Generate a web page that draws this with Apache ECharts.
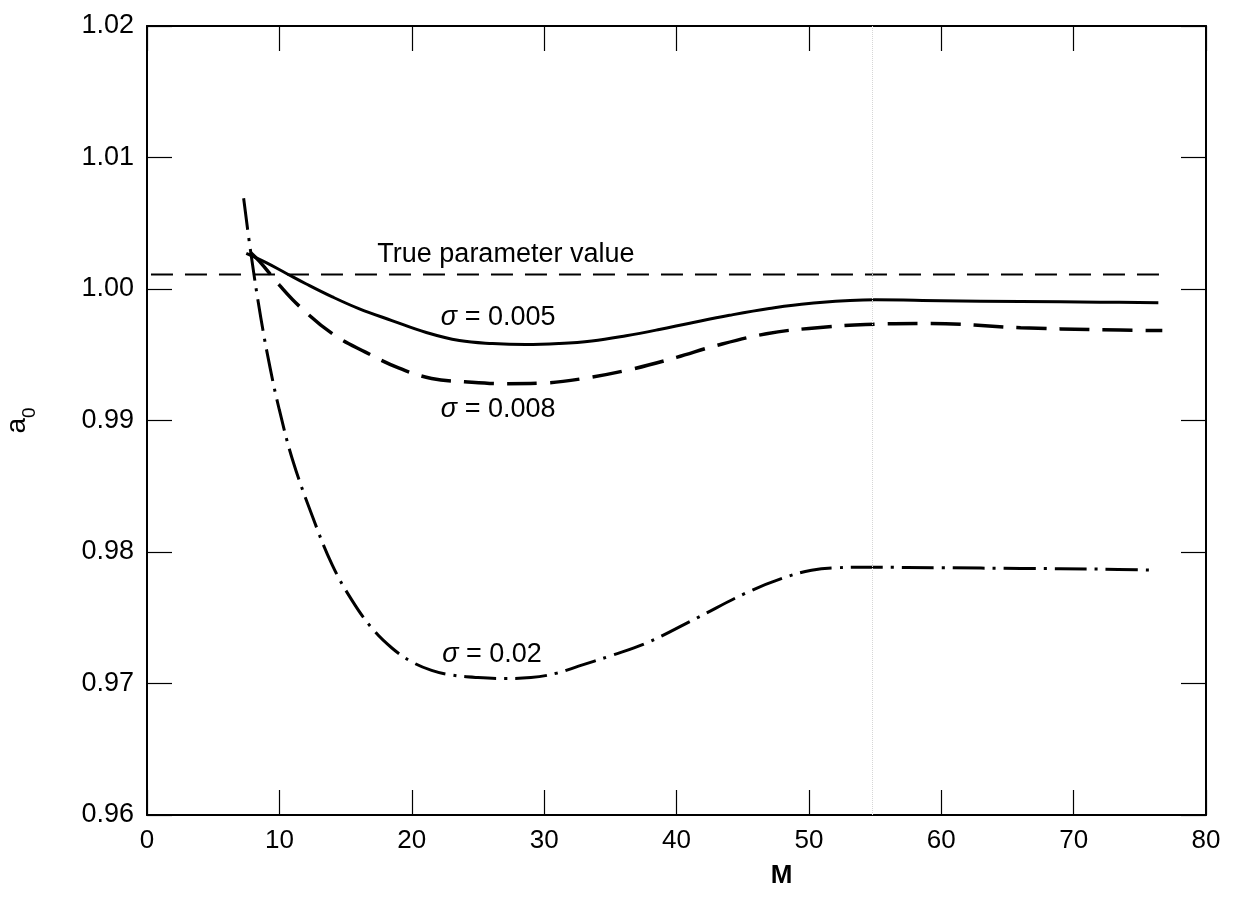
<!DOCTYPE html>
<html>
<head>
<meta charset="utf-8">
<script src="https://cdn.jsdelivr.net/npm/echarts@6/dist/echarts.min.js"></script>
<style>html,body{margin:0;padding:0;background:#fff}#c{width:1234px;height:913px}</style>
</head>
<body>
<div id="c"></div>
<script>
// ---- data ----
const xTicks = [0, 10, 20, 30, 40, 50, 60, 70, 80];
const yTicks = [0.96, 0.97, 0.98, 0.99, 1.00, 1.01, 1.02];

const trueM = [0.3, 76.7];
const trueA = [1.0011, 1.0011];

const m005 = [7.5, 9, 10.5, 12, 14, 16, 18.5, 21.1, 23.6, 26.1, 28.6, 31.1, 33.6, 36.2, 38.7, 41, 44, 47, 50, 55, 60, 66, 72, 76.4];
const a005 = [1.0027, 1.0020, 1.0012, 1.0004, 0.9994, 0.99851, 0.9976, 0.99669, 0.99608, 0.99585, 0.99577, 0.99585, 0.99605, 0.99645, 0.99692, 0.9974, 0.9980, 0.99852, 0.9989, 0.99918, 0.99911, 0.99905, 0.9990, 0.99896];

const m008 = [7.8, 8.5, 10, 11.5, 14, 16.5, 19, 21.5, 24, 27, 30, 33, 36.6, 40, 43, 46.8, 50, 54.3, 59, 66, 72, 76.7];
const a008 = [1.0028, 1.0021, 1.0003, 0.9987, 0.9966, 0.9952, 0.9940, 0.9932, 0.99295, 0.9928, 0.99285, 0.9932, 0.9939, 0.9948, 0.9957, 0.9966, 0.9970, 0.9973, 0.99737, 0.99706, 0.9969, 0.99684];

const m02 = [7.3, 7.85, 8.6, 9.3, 10, 11, 12.5, 14, 15.5, 17, 18.5, 20, 21.5, 23, 25, 27, 29, 31, 32.6, 35, 37.7, 41.5, 45.2, 48, 50.2, 52, 54.8, 60, 66, 72, 76.2];
const a02 = [1.0069, 1.0027, 0.9978, 0.9940, 0.9908, 0.9870, 0.9827, 0.9790, 0.9763, 0.9742, 0.9727, 0.97165, 0.9710, 0.97065, 0.97045, 0.97038, 0.97045, 0.9708, 0.97132, 0.9721, 0.97306, 0.97496, 0.97686, 0.9780, 0.97861, 0.9788, 0.97884, 0.9788, 0.97875, 0.9787, 0.97861];

const labelTexts = ['True parameter value', '{s|σ} = 0.005', '{s|σ} = 0.008', '{s|σ} = 0.02'];
const labelM = [17.4, 22.2, 22.2, 22.3];
const labelA = [1.0026, 0.99782, 0.99084, 0.97223];

const xTitle = 'M';
const yTitle = '{a|a}{b|0}';

// ---- chart ----
const pair = (xs, ys) => xs.map((x, i) => [x, ys[i]]);
const FONT = '"Liberation Sans", Arial, Helvetica, sans-serif';
const chart = echarts.init(document.getElementById('c'), null, {renderer: 'canvas'});

const axisCommon = () => ({
  axisLine: {show: true, onZero: false, lineStyle: {color: '#000', width: 2}},
  axisTick: {show: true, inside: true, length: 25, lineStyle: {color: '#000', width: 1.2}},
  splitLine: {show: false}
});

chart.setOption({
  backgroundColor: '#fff',
  animation: false,
  grid: {left: 147, right: 28, top: 26, bottom: 98, containLabel: false, outerBoundsMode: 'none'},
  xAxis: [
    Object.assign(axisCommon(), {
      type: 'value', min: xTicks[0], max: xTicks[xTicks.length - 1], interval: 10, position: 'bottom',
      axisLabel: {color: '#000', fontSize: 26, fontFamily: FONT, margin: 13},
      name: xTitle, nameLocation: 'middle', nameGap: 48,
      nameTextStyle: {color: '#000', fontSize: 26, fontFamily: FONT, fontWeight: 'bold', padding: [0, 0, 0, 210]}
    }),
    Object.assign(axisCommon(), {
      type: 'value', min: xTicks[0], max: xTicks[xTicks.length - 1], interval: 10, position: 'top',
      axisLabel: {show: false}
    })
  ],
  yAxis: [
    Object.assign(axisCommon(), {
      type: 'value', min: yTicks[0], max: yTicks[yTicks.length - 1], interval: 0.01, position: 'left',
      axisLabel: {color: '#000', fontSize: 27, fontFamily: FONT, margin: 13, formatter: v => v.toFixed(2)},
      name: yTitle, nameLocation: 'middle', nameGap: 108, nameRotate: 90,
      nameTextStyle: {
        fontFamily: FONT, color: '#000',
        rich: {
          a: {fontSize: 28, fontFamily: FONT, color: '#000', verticalAlign: 'top', lineHeight: 36},
          b: {fontSize: 19, fontFamily: FONT, color: '#000', verticalAlign: 'bottom', lineHeight: 36}
        }
      }
    }),
    Object.assign(axisCommon(), {
      type: 'value', min: yTicks[0], max: yTicks[yTicks.length - 1], interval: 0.01, position: 'right',
      axisLabel: {show: false}
    })
  ],
  series: [
    {
      type: 'line', data: pair(trueM, trueA), symbol: 'none', silent: true,
      lineStyle: {color: '#000', width: 2, type: [22, 12]},
      markLine: {
        silent: true, symbol: 'none', label: {show: false},
        lineStyle: {color: '#d6d6d6', width: 1, type: 'dotted'},
        data: [{xAxis: 54.8}]
      }
    },
    {
      type: 'line', data: pair(m005, a005), symbol: 'none', smooth: 0.4,
      lineStyle: {color: '#000', width: 3, type: 'solid'}
    },
    {
      type: 'line', data: pair(m008, a008), symbol: 'none', smooth: 0.4,
      lineStyle: {color: '#000', width: 3.5, type: [30, 13]}
    },
    {
      type: 'line', data: pair(m02, a02), symbol: 'none', smooth: 0.4,
      lineStyle: {color: '#000', width: 3, type: [32, 8, 3, 8]}
    },
    {
      type: 'scatter', symbolSize: 0, silent: true,
      itemStyle: {opacity: 1},
      data: labelTexts.map((t, i) => ({name: t, value: [labelM[i], labelA[i]]})),
      label: {
        show: true, position: 'right', distance: 0, formatter: p => p.name,
        color: '#000', opacity: 1, fontSize: 27, fontFamily: FONT,
        rich: {s: {fontSize: 27, fontStyle: 'italic', fontFamily: FONT, color: '#000'}}
      }
    }
  ]
});
</script>
</body>
</html>
